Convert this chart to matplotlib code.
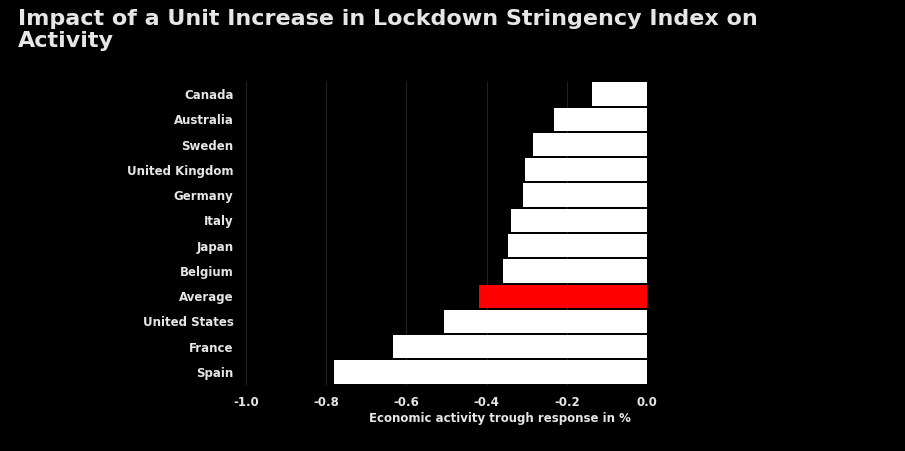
"""Lockdown stringency impact chart, dark theme horizontal bars."""
import matplotlib
matplotlib.use("Agg")
import matplotlib.pyplot as plt

countries = ["Canada", "Australia", "Sweden", "United Kingdom", "Germany", "Italy",
             "Japan", "Belgium", "Average", "United States", "France", "Spain"]
response = [-0.137, -0.232, -0.284, -0.304, -0.309, -0.339,
            -0.347, -0.360, -0.419, -0.506, -0.633, -0.781]
xticks = [-1.0, -0.8, -0.6, -0.4, -0.2, 0.0]

BG = "#000000"
TXT = "#e6e6e6"
GRID = "#222222"

plt.rcParams.update({"font.family": "DejaVu Sans", "font.weight": "bold"})

W, H = 905, 451
fig = plt.figure(figsize=(W / 100, H / 100), dpi=100, facecolor=BG)
ax = fig.add_axes([246 / W, 1 - 384.6 / H, 401 / W, 303.2 / H], facecolor=BG)

# gridlines behind the bars
ax.vlines(xticks[:-1], -0.5, len(countries) - 0.5, color=GRID, linewidth=0.8, zorder=1)

colors = ["#ff0000" if c == "Average" else "#ffffff" for c in countries]
ypos = list(range(len(countries)))
ax.barh(ypos, response, height=0.92, color=colors, zorder=3)

ax.set_ylim(len(countries) - 0.5, -0.5)
ax.set_xlim(-1.0, 0.0)
ax.set_yticks(ypos)
ax.set_yticklabels(countries)
ax.set_xticks(xticks)
ax.set_xticklabels([f"{t:.1f}" for t in xticks])
ax.tick_params(axis="both", length=0, colors=TXT, labelsize=8.5)
ax.tick_params(axis="y", pad=9)
ax.tick_params(axis="x", pad=8)
for s in ax.spines.values():
    s.set_visible(False)

ax.set_xlabel("Economic activity trough response in %", color=TXT, fontsize=8.5,
              fontweight="bold")
ax.xaxis.set_label_coords(0.633, -0.09)

fig.text(18 / W, 1 - 9 / H, "Impact of a Unit Increase in Lockdown Stringency Index on\nActivity",
         color=TXT, fontsize=16, fontweight="bold", va="top", ha="left",
         linespacing=1.1)

fig.savefig("out.png", dpi=100, facecolor=BG)
